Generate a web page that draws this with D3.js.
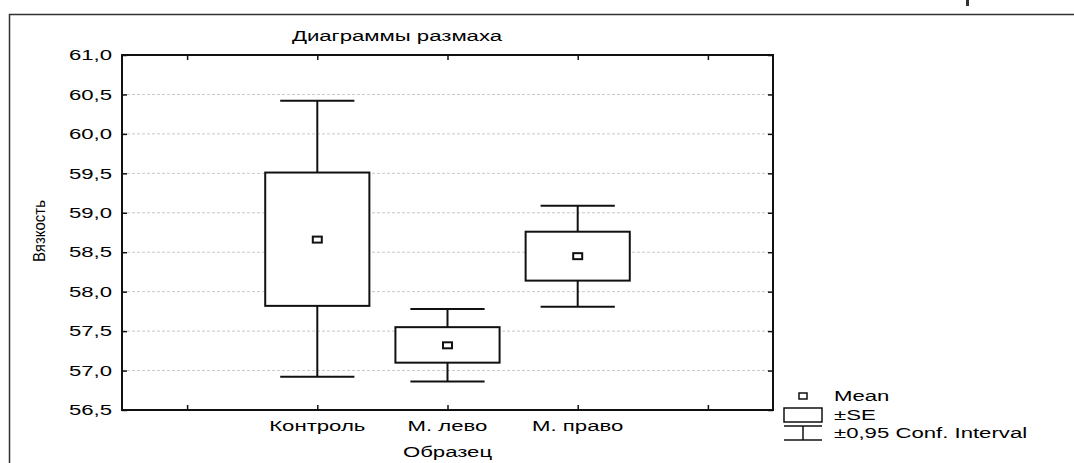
<!DOCTYPE html>
<html>
<head>
<meta charset="utf-8">
<script src="https://cdn.jsdelivr.net/npm/d3@7"></script>
<style>
  body { margin: 0; background: #fff; }
  text { font-family: "Liberation Sans", Arial, sans-serif; fill: #000; }
</style>
</head>
<body>
<div id="chart"></div>
<script>
// data
var categories = ["Контроль", "М. лево", "М. право"];
var means  = [58.66, 57.32, 58.45];
var seLow  = [57.82, 57.10, 58.14];
var seHigh = [59.51, 57.55, 58.76];
var ciLow  = [56.92, 56.86, 57.81];
var ciHigh = [60.42, 57.78, 59.09];
var yTicks = [56.5, 57, 57.5, 58, 58.5, 59, 59.5, 60, 60.5, 61];
var legendLabels = ["Mean", "±SE", "±0,95 Conf. Interval"];

var W = 1074, H = 463;
var plot = {left: 122, right: 773, top: 55, bottom: 410};
var SX = 1.43; // the picture is stretched sideways, so the text is too
var FS = 15.5;

var svg = d3.select("#chart").append("svg")
    .attr("width", W)
    .attr("height", H);

// outer frame (runs off the right and bottom)
svg.append("rect")
    .attr("x", 9.5).attr("y", 14.5)
    .attr("width", W + 20).attr("height", H + 20)
    .attr("fill", "none").attr("stroke", "#333").attr("stroke-width", 1.5);

svg.append("rect")
    .attr("x", 966).attr("y", 0).attr("width", 3).attr("height", 6)
    .attr("fill", "#333");

// slots: an empty one each side of the categories
var slots = ["_l"].concat(categories, ["_r"]);
var x = d3.scaleBand()
    .domain(slots)
    .range([plot.left, plot.right]);
var bw = x.bandwidth();
function cx(c) { return x(c) + bw / 2; }

var y = d3.scaleLinear()
    .domain([56.5, 61])
    .range([plot.bottom, plot.top]);

var fmt = function(d) { return d3.format(".1f")(d).replace(".", ","); };

// wide text helper
function wideText(parent, tx, ty, str, anchor, size) {
  return parent.append("text")
      .attr("transform", "translate(" + tx + "," + ty + ") scale(" + SX + ",1)")
      .attr("text-anchor", anchor || "start")
      .attr("dominant-baseline", "central")
      .style("font-size", (size || FS) + "px")
      .text(str);
}

// grid
svg.append("g").selectAll("line")
    .data(yTicks.filter(function(d) { return d > 56.5 && d < 61; }))
    .enter().append("line")
    .attr("x1", plot.left).attr("x2", plot.right)
    .attr("y1", function(d) { return y(d); })
    .attr("y2", function(d) { return y(d); })
    .attr("stroke", "#c8c8c8")
    .attr("stroke-dasharray", "3,2");

// axes, ticks pointing inward
var xs = d3.scalePoint().domain(slots).range([cx("_l"), cx("_r")]);

var axLeft = svg.append("g")
    .attr("transform", "translate(" + plot.left + ",0)")
    .call(d3.axisLeft(y).tickValues(yTicks).tickSize(-5).tickFormat(""));
var axRight = svg.append("g")
    .attr("transform", "translate(" + plot.right + ",0)")
    .call(d3.axisRight(y).tickValues(yTicks).tickSize(-5).tickFormat(""));
var axTop = svg.append("g")
    .attr("transform", "translate(0," + plot.top + ")")
    .call(d3.axisTop(xs).tickSize(-5).tickFormat(""));
var axBottom = svg.append("g")
    .attr("transform", "translate(0," + plot.bottom + ")")
    .call(d3.axisBottom(xs).tickSize(-5).tickFormat(""));

[axLeft, axRight, axTop, axBottom].forEach(function(a) {
  a.select(".domain").remove();
  a.selectAll(".tick line").attr("stroke", "#111").attr("stroke-width", 1.5);
});
// plot frame
svg.append("rect")
    .attr("x", plot.left).attr("y", plot.top)
    .attr("width", plot.right - plot.left).attr("height", plot.bottom - plot.top)
    .attr("fill", "none").attr("stroke", "#111").attr("stroke-width", 2);

// tick labels
var labels = svg.append("g");
yTicks.forEach(function(v) {
  wideText(labels, plot.left - 10, y(v), fmt(v), "end");
});
categories.forEach(function(c) {
  wideText(labels, cx(c), plot.bottom + 16, c, "middle");
});

// titles
wideText(svg, 397, 36, "Диаграммы размаха", "middle");
wideText(svg, cx("М. лево"), 452, "Образец", "middle");
svg.append("text")
    .attr("transform", "translate(39,231) rotate(-90) scale(1,1.1)")
    .attr("text-anchor", "middle")
    .attr("dominant-baseline", "central")
    .style("font-size", "15px")
    .text("Вязкость");

// boxes
var boxW = bw * 0.8, capW = bw * 0.57;
var bx = svg.append("g").attr("stroke", "#111").attr("stroke-width", 2);
categories.forEach(function(c, i) {
  var xc = cx(c);
  // whiskers
  bx.append("line")
      .attr("x1", xc).attr("x2", xc)
      .attr("y1", y(ciHigh[i])).attr("y2", y(seHigh[i]));
  bx.append("line")
      .attr("x1", xc).attr("x2", xc)
      .attr("y1", y(seLow[i])).attr("y2", y(ciLow[i]));
  bx.append("line")
      .attr("x1", xc - capW / 2).attr("x2", xc + capW / 2)
      .attr("y1", y(ciHigh[i])).attr("y2", y(ciHigh[i]));
  bx.append("line")
      .attr("x1", xc - capW / 2).attr("x2", xc + capW / 2)
      .attr("y1", y(ciLow[i])).attr("y2", y(ciLow[i]));
  // SE box
  bx.append("rect")
      .attr("x", xc - boxW / 2)
      .attr("y", y(seHigh[i]))
      .attr("width", boxW)
      .attr("height", y(seLow[i]) - y(seHigh[i]))
      .attr("fill", "#fff");
  // mean
  bx.append("rect")
      .attr("x", xc - 4.5).attr("y", y(means[i]) - 3)
      .attr("width", 9).attr("height", 6)
      .attr("fill", "#fff");
});

// legend
var lg = svg.append("g");
var ls = lg.append("g").attr("stroke", "#111").attr("stroke-width", 1.5);
ls.append("rect").attr("x", 799).attr("y", 393).attr("width", 8).attr("height", 6).attr("fill", "#fff");
ls.append("rect").attr("x", 784).attr("y", 408).attr("width", 38).attr("height", 14).attr("fill", "#fff");
ls.append("line").attr("x1", 784).attr("x2", 822).attr("y1", 426).attr("y2", 426);
ls.append("line").attr("x1", 784).attr("x2", 822).attr("y1", 440).attr("y2", 440);
ls.append("line").attr("x1", 803).attr("x2", 803).attr("y1", 426).attr("y2", 440);
[396, 415, 433].forEach(function(ly, i) {
  wideText(lg, 834, ly, legendLabels[i], "start");
});
</script>
</body>
</html>
